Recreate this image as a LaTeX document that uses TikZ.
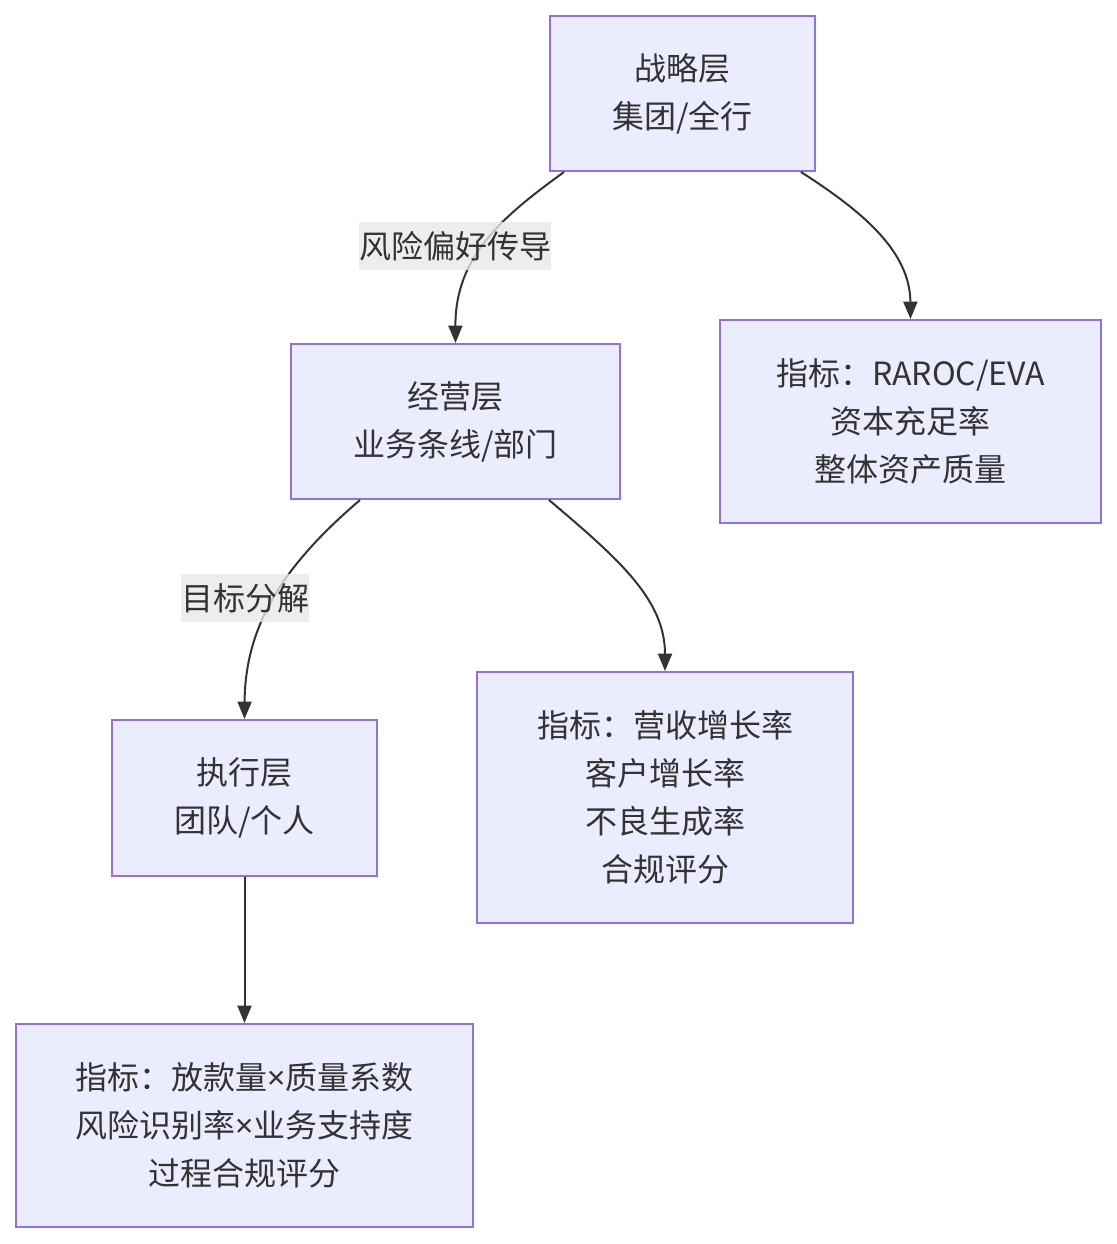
\documentclass[tikz,border=0pt]{standalone}
\usepackage{fontspec}
\setmainfont{Noto Sans CJK SC}
\newfontfamily\latinfont{Noto Sans}
\newcommand{\mult}{{\latinfont ×}}
\usetikzlibrary{arrows.meta,positioning}
\definecolor{boxfill}{HTML}{ECECFF}
\definecolor{boxline}{HTML}{9370DB}
\definecolor{ink}{HTML}{333333}
\definecolor{lblfill}{HTML}{E8E8E8}

\begin{document}
\begin{tikzpicture}[
 x=0.75pt, y=-0.75pt, >={Triangle[length=13pt,width=10.5pt]},
 font=\fontsize{24}{36}\selectfont, text=ink,
 box/.style={draw=boxline, fill=boxfill, line width=1.5pt, align=center, inner sep=0pt},
 lbl/.style={fill=lblfill, fill opacity=0.8, text opacity=1, inner sep=0pt, minimum height=36pt},
 link/.style={draw=ink, line width=1.5pt, ->}]
\useasboundingbox (0,0) rectangle (1116,1244);
\node[box, minimum width=198.75pt, minimum height=116.25pt] (strat) at (682.5,93.5) {战略层\\集团/全行};
\node[box, minimum width=246.75pt, minimum height=116.25pt] (oper) at (455.5,421.5) {经营层\\业务条线/部门};
\node[box, minimum width=285.75pt, minimum height=152.25pt] (kpiA) at (910.5,421.5) {指标：RAROC/EVA\\资本充足率\\整体资产质量};
\node[box, minimum width=198.75pt, minimum height=117pt] (exec) at (244.5,798) {执行层\\团队/个人};
\node[box, minimum width=282pt, minimum height=188.25pt] (kpiB) at (665,797.5) {指标：营收增长率\\客户增长率\\不良生成率\\合规评分};
\node[box, minimum width=342.75pt, minimum height=152.25pt] (kpiC) at (244.5,1125.5) {指标：放款量\mult 质量系数\\风险识别率\mult 业务支持度\\过程合规评分};
% connectors
\draw[link] ([xshift=11.25pt]strat.south west) .. controls (505,215) and (455,255) .. (oper.north);
\draw[link] ([xshift=-11.25pt]strat.south east) .. controls (860,210) and (910,250) .. (kpiA.north);
\draw[link] ([xshift=52.5pt]oper.south west) .. controls (290,560) and (245,620) .. (exec.north);
\draw[link] ([xshift=-54pt]oper.south east) .. controls (620,560) and (665,600) .. (kpiB.north);
\draw[link] (exec.south) -- (kpiC.north);
\node[lbl] (l1) at (455,246) {风险偏好传导};
\node[lbl] (l2) at (245,598) {目标分解};
\end{tikzpicture}
\end{document}
